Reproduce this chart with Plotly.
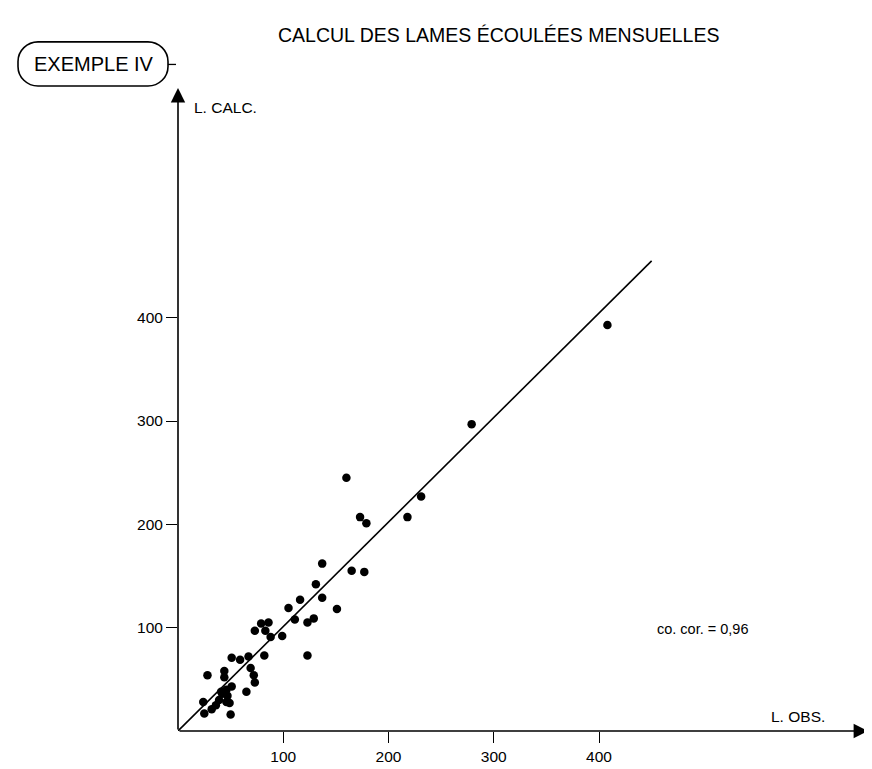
import plotly.graph_objects as go

# ---- data ----
obs = [24, 25, 32, 36, 39, 42, 47, 46, 49, 50, 51, 44, 44, 28, 65, 69, 72, 73,
       51, 59, 67, 82, 73, 79, 86, 83, 88, 99, 105, 111, 116, 123, 129, 123,
       131, 137, 151, 41, 46, 137, 160, 165, 177, 173, 179, 218, 231, 279, 408]
calc = [28, 17, 21, 25, 30, 36, 34, 28, 27, 16, 43, 58, 52, 54, 38, 61, 54, 47,
        71, 69, 72, 73, 97, 104, 105, 97, 91, 92, 119, 108, 127, 105, 109, 73,
        142, 129, 118, 38, 40, 162, 245, 155, 154, 207, 201, 207, 227, 297, 393]
line_x = [0, 450]
line_y = [0, 455]
tick_vals = [100, 200, 300, 400]
tick_text = ["100", "200", "300", "400"]

title_text = "CALCUL DES LAMES ÉCOULÉES MENSUELLES"
box_text = "EXEMPLE IV"
corr_text = "co. cor. = 0,96"

# ---- layout geometry (pixels) ----
W, H = 872, 769
ML, MR, MT, MB = 170, 12, 80, 34
PW, PH = W - ML - MR, H - MT - MB
SCALE = 1.0525  # px per unit
XR = PW / SCALE
YR = PH / SCALE
FONT = "Liberation Sans, Arial, sans-serif"


def px(x):
    return (x - ML) / PW


def py(y):
    return (H - MB - y) / PH


fig = go.Figure()
fig.add_trace(go.Scatter(x=line_x, y=line_y, mode="lines",
                         line=dict(color="black", width=1.6),
                         hoverinfo="skip", showlegend=False))
fig.add_trace(go.Scatter(x=obs, y=calc, mode="markers",
                         marker=dict(color="black", size=8.5),
                         showlegend=False))

axis_common = dict(showgrid=False, zeroline=False, showline=False,
                   ticks="outside", ticklen=11, tickwidth=1.3,
                   tickcolor="black", tickvals=tick_vals, ticktext=tick_text,
                   tickfont=dict(family=FONT, size=15.5, color="black"))
fig.update_xaxes(range=[0, XR], **axis_common)
fig.update_yaxes(range=[0, YR], **axis_common)

annotations = [
    # axes with arrows
    dict(x=XR, y=0, ax=0, ay=0, xref="x", yref="y", axref="x", ayref="y",
         showarrow=True, arrowhead=2, arrowsize=1.8, arrowwidth=1.6,
         arrowcolor="black", text=""),
    dict(x=0, y=YR, ax=0, ay=0, xref="x", yref="y", axref="x", ayref="y",
         showarrow=True, arrowhead=2, arrowsize=1.8, arrowwidth=1.6,
         arrowcolor="black", text=""),
    dict(x=px(184), y=py(100), xref="paper", yref="paper", text="L. CALC.",
         showarrow=False, xanchor="left", yanchor="middle",
         font=dict(family=FONT, size=15.5, color="black")),
    dict(x=px(790), y=py(731), xref="paper", yref="paper", text="L. OBS.",
         showarrow=False, xanchor="center", yanchor="bottom",
         font=dict(family=FONT, size=15.5, color="black")),
    dict(x=px(695), y=py(631), xref="paper", yref="paper", text=corr_text,
         showarrow=False, xanchor="center", yanchor="middle",
         font=dict(family=FONT, size=14.5, color="black")),
    dict(x=px(490), y=py(26), xref="paper", yref="paper", text=title_text,
         showarrow=False, xanchor="center", yanchor="middle",
         font=dict(family=FONT, size=19.5, color="black")),
    dict(x=px(86), y=py(56), xref="paper", yref="paper", text=box_text,
         showarrow=False, xanchor="center", yanchor="middle",
         font=dict(family=FONT, size=20, color="black")),
]

# rounded (stadium) box
x0, x1, y0, y1 = 10, 160, 33, 78
r = 20
k = 0.55 * r


def P(x, y):
    return f"{px(x):.5f},{py(y):.5f}"


path = (f"M {P(x0 + r, y0)} L {P(x1 - r, y0)} "
        f"C {P(x1 - r + k, y0)} {P(x1, y0 + r - k)} {P(x1, y0 + r)} "
        f"L {P(x1, y1 - r)} "
        f"C {P(x1, y1 - r + k)} {P(x1 - r + k, y1)} {P(x1 - r, y1)} "
        f"L {P(x0 + r, y1)} "
        f"C {P(x0 + r - k, y1)} {P(x0, y1 - r + k)} {P(x0, y1 - r)} "
        f"L {P(x0, y0 + r)} "
        f"C {P(x0, y0 + r - k)} {P(x0 + r - k, y0)} {P(x0 + r, y0)} Z")

shapes = [
    dict(type="path", xref="paper", yref="paper", path=path,
         line=dict(color="black", width=1.6)),
    dict(type="line", xref="paper", yref="paper",
         x0=px(160), x1=px(168), y0=py(56), y1=py(56),
         line=dict(color="black", width=1.3)),
]

fig.update_layout(width=W, height=H, autosize=False,
                  margin=dict(l=ML, r=MR, t=MT, b=MB, pad=0),
                  plot_bgcolor="white", paper_bgcolor="white",
                  annotations=annotations, shapes=shapes,
                  font=dict(family=FONT, color="black"))

fig.write_html("out.html")
